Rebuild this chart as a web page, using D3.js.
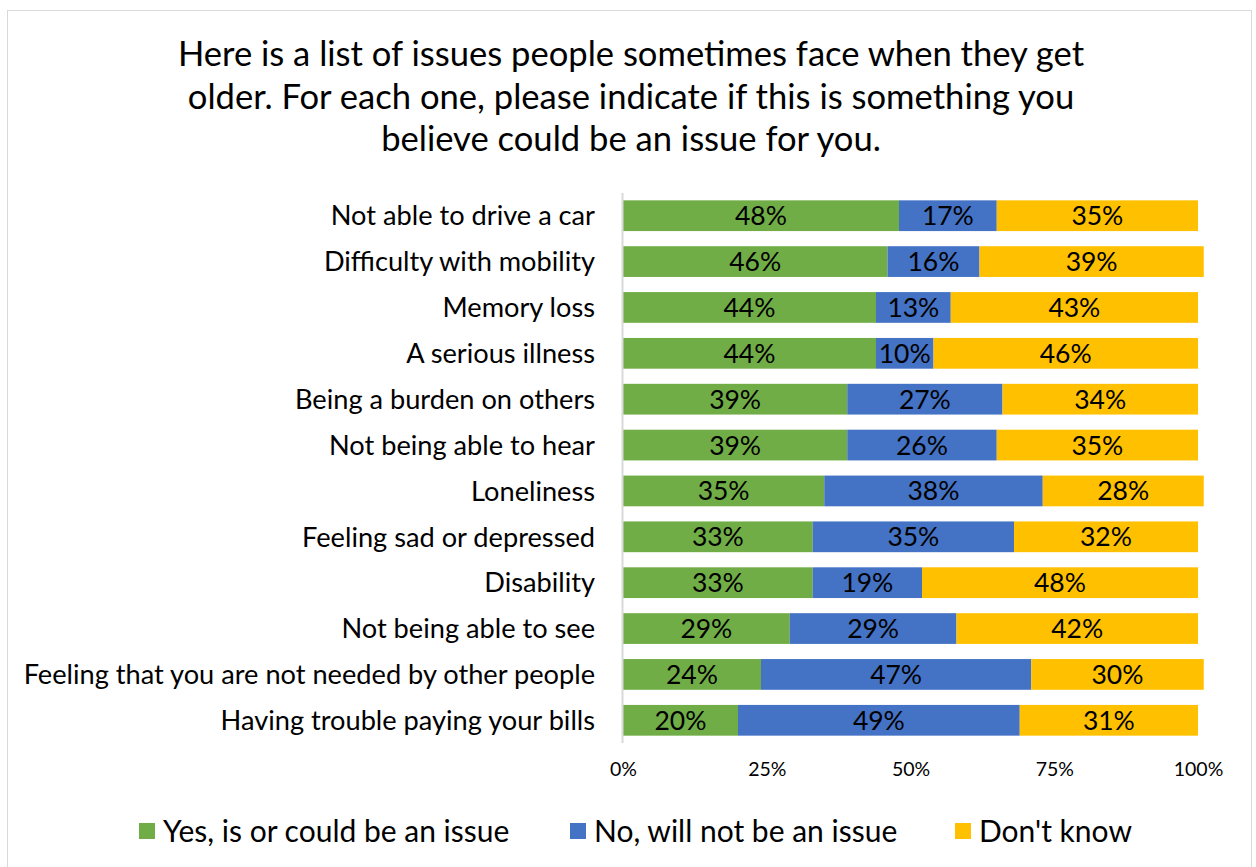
<!DOCTYPE html>
<html>
<head>
<meta charset="utf-8">
<script src="https://cdn.jsdelivr.net/npm/d3@7"></script>
<style>
  body { margin: 0; background: #fff; }
  svg { display: block; font-family: Lato, "Open Sans", sans-serif; }
</style>
</head>
<body>
<svg id="chart" width="1256" height="867"></svg>
<script>
const categories = [
  "Not able to drive a car",
  "Difficulty with mobility",
  "Memory loss",
  "A serious illness",
  "Being a burden on others",
  "Not being able to hear",
  "Loneliness",
  "Feeling sad or depressed",
  "Disability",
  "Not being able to see",
  "Feeling that you are not needed by other people",
  "Having trouble paying your bills"
]
const yes = [48, 46, 44, 44, 39, 39, 35, 33, 33, 29, 24, 20]
const no = [17, 16, 13, 10, 27, 26, 38, 35, 19, 29, 47, 49]
const dontKnow = [35, 39, 43, 46, 34, 35, 28, 32, 48, 42, 30, 31]
const seriesNames = ["Yes, is or could be an issue", "No, will not be an issue", "Don't know"]
const xTicks = [0, 25, 50, 75, 100]
const titleLines = [
  "Here is a list of issues people sometimes face when they get",
  "older. For each one, please indicate if this is something you",
  "believe could be an issue for you."
]

const colors = ["#70AD47", "#4472C4", "#FFC000"]

const SVG = d3.select("#chart")
const Width = 1256
const Height = 867
const Margin = { top: 193, left: 623, right: 57, bottom: 124 }

// outer border
SVG.append("rect")
  .attr("x", 7.5).attr("y", 10.5)
  .attr("width", Width - 12).attr("height", Height)
  .attr("fill", "white")
  .attr("stroke", "#d9d9d9")

// title
SVG.selectAll(".title")
  .data(titleLines)
  .join("text")
  .attr("x", 631)
  .attr("y", (d, i) => 66 + i * 42.5)
  .attr("text-anchor", "middle")
  .style("font-size", "34.6px")
  .style("fill", "#000")
  .text(d => d)

const xscale = d3.scaleLinear()
  .domain([0, 100])
  .range([Margin.left, Width - Margin.right - 1])

const yscale = d3.scaleBand()
  .domain(categories)
  .range([Margin.top, Height - Margin.bottom])
  .paddingInner(0.33)
  .paddingOuter(0.16)

const rows = categories.map((c, i) => {
  const vals = [yes[i], no[i], dontKnow[i]]
  let acc = 0
  return vals.map((v, k) => {
    const seg = { cat: c, k: k, v: v, x0: acc, x1: acc + v }
    acc += v
    return seg
  })
}).flat()

SVG.append("g")
  .selectAll("rect")
  .data(rows)
  .join("rect")
  .attr("x", d => xscale(d.x0))
  .attr("y", d => yscale(d.cat))
  .attr("width", d => xscale(d.x1) - xscale(d.x0))
  .attr("height", yscale.bandwidth())
  .attr("fill", d => colors[d.k])

SVG.append("g")
  .selectAll("text")
  .data(rows)
  .join("text")
  .attr("x", d => (xscale(d.x0) + xscale(d.x1)) / 2)
  .attr("y", d => yscale(d.cat) + yscale.bandwidth() / 2)
  .attr("dy", "0.36em")
  .attr("text-anchor", "middle")
  .style("font-size", "26.5px")
  .style("fill", "#000")
  .text(d => d.v + "%")

// y axis line
SVG.append("line")
  .attr("x1", Margin.left - 0.5).attr("x2", Margin.left - 0.5)
  .attr("y1", Margin.top).attr("y2", Height - Margin.bottom)
  .attr("stroke", "#d9d9d9")
  .attr("stroke-width", 2)

// category labels
SVG.append("g")
  .selectAll("text")
  .data(categories)
  .join("text")
  .attr("x", 595)
  .attr("y", d => yscale(d) + yscale.bandwidth() / 2)
  .attr("dy", "0.36em")
  .attr("text-anchor", "end")
  .style("font-size", "27.2px")
  .style("fill", "#000")
  .text(d => d)

// x axis tick labels
const xAxis = d3.axisBottom(xscale)
  .tickValues(xTicks)
  .tickFormat(d => d + "%")
  .tickSize(0)
  .tickPadding(0)

const gx = SVG.append("g")
  .attr("transform", `translate(0, 762)`)
  .call(xAxis)
gx.select(".domain").remove()
gx.selectAll("text")
  .style("font-size", "19.5px")
  .style("font-family", "Lato, sans-serif")
  .style("fill", "#000")

// legend
const legendX = [139, 570, 955]
const legend = SVG.append("g")
  .selectAll("g")
  .data(seriesNames)
  .join("g")
  .attr("transform", (d, i) => `translate(${legendX[i]}, 831)`)

legend.append("rect")
  .attr("x", 0).attr("y", -8)
  .attr("width", 16).attr("height", 16)
  .attr("fill", (d, i) => colors[i])

legend.append("text")
  .attr("x", 24)
  .attr("dy", "0.36em")
  .style("font-size", "30px")
  .style("fill", "#000")
  .text(d => d)
</script>
</body>
</html>
